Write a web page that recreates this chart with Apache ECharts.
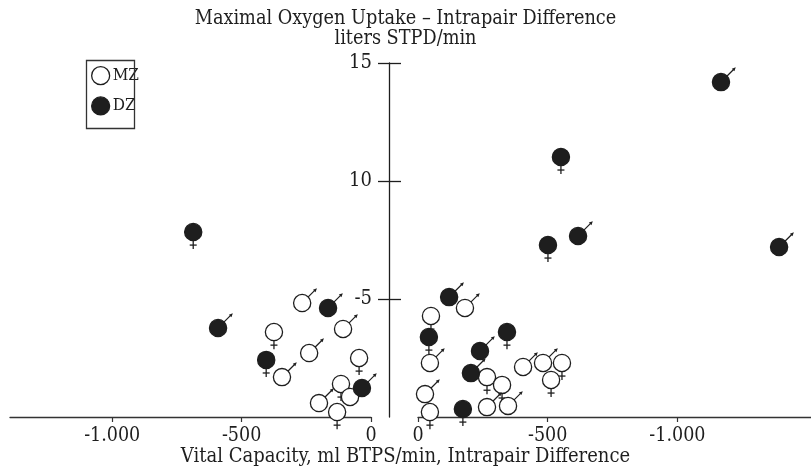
<!DOCTYPE html>
<html>
<head>
<meta charset="utf-8">
<script src="https://cdn.jsdelivr.net/npm/echarts@6.0.0/dist/echarts.min.js"></script>
<style>html,body{margin:0;padding:0;background:#fff}#chart{width:811px;height:472px}</style>
</head>
<body>
<div id="chart"></div>
<script>
// sex codes
const M = 1, F = 2;
// [vital capacity difference, VO2max difference, sex]
const mzLeft = [
  [-266, 4.83, M], [-375, 3.60, F], [-108, 3.73, M], [-239, 2.71, M], [-46, 2.50, F],
  [-344, 1.69, M], [-116, 1.40, F], [-81, 0.85, M], [-201, 0.59, M], [-131, 0.21, F]
];
const dzLeft = [
  [-687, 7.84, F], [-591, 3.77, M], [-166, 4.62, M], [-405, 2.42, F], [-35, 1.23, M]
];
const mzRight = [
  [-181, 4.62, M], [-50, 4.28, F], [-46, 2.29, M], [-266, 1.69, F], [-324, 1.36, F],
  [-405, 2.12, M], [-482, 2.29, M], [-555, 2.29, F], [-513, 1.57, F], [-27, 0.97, M],
  [-46, 0.21, F], [-266, 0.42, M], [-347, 0.47, M]
];
const dzRight = [
  [-120, 5.08, M], [-42, 3.39, F], [-343, 3.60, F], [-239, 2.80, M], [-204, 1.86, M],
  [-173, 0.34, F], [-1168, 14.19, M], [-551, 11.02, F], [-501, 7.29, F], [-617, 7.67, M],
  [-1392, 7.20, M]
];
const xTicks = [-1000, -500, 0];
const yTicks = [5, 10, 15];
const yTickLabels = {5: '-5', 10: '10', 15: '15'};
const titleText = 'Maximal Oxygen Uptake \u2013 Intrapair Difference\nliters STPD/min';
const xName = 'Vital Capacity, ml BTPS/min, Intrapair Difference';

const FONT = '"DejaVu Serif Condensed", "DejaVu Serif", serif';
const INK = '#1e1e1e';

function makeRender(filled) {
  return function (params, api) {
    const p = api.coord([api.value(0), api.value(1)]);
    const sex = api.value(2);
    const r = 8.6;
    const children = [];
    if (sex === M) {
      const d = r * 0.7071;
      const sx = p[0] + d, sy = p[1] - d;
      const ex = sx + 6.5, ey = sy - 6.5;
      const tx = ex + 2.2, ty = ey - 2.2;
      const bx = tx - 3.8 * 0.7071, by = ty + 3.8 * 0.7071;
      children.push({type: 'line', shape: {x1: sx, y1: sy, x2: ex, y2: ey}, style: {stroke: INK, lineWidth: 1.2}});
      children.push({type: 'polygon', shape: {points: [[tx, ty], [bx - 1.8 * 0.7071, by - 1.8 * 0.7071], [bx + 1.8 * 0.7071, by + 1.8 * 0.7071]]}, style: {fill: INK}});
    } else if (sex === F) {
      children.push({type: 'line', shape: {x1: p[0], y1: p[1] + r, x2: p[0], y2: p[1] + r + 8.5}, style: {stroke: INK, lineWidth: 1.3}});
      children.push({type: 'line', shape: {x1: p[0] - 3.5, y1: p[1] + r + 4.5, x2: p[0] + 3.5, y2: p[1] + r + 4.5}, style: {stroke: INK, lineWidth: 1.3}});
    }
    children.push({type: 'circle', shape: {cx: p[0], cy: p[1], r: r}, style: {fill: filled ? INK : '#fff', stroke: INK, lineWidth: 1.3}});
    return {type: 'group', children: children};
  };
}

const xLabelFmt = v => v === -1000 ? '-1.000' : String(v);

function xAxisCfg(idx, inverse, min) {
  return {
    type: 'value', gridIndex: idx, min: min, max: 0, inverse: inverse,
    splitLine: {show: false},
    axisLine: {show: true, onZero: false, lineStyle: {color: '#333', width: 1.3}},
    axisTick: {show: true, length: 5, customValues: xTicks, lineStyle: {color: '#333', width: 1.2}},
    axisLabel: {customValues: xTicks, formatter: xLabelFmt, margin: 9, fontSize: 19.5, fontFamily: FONT, color: INK}
  };
}
function hiddenY(idx) {
  return {type: 'value', gridIndex: idx, min: 0, max: 15, show: false, splitLine: {show: false}};
}

const chart = echarts.init(document.getElementById('chart'), null, {renderer: 'canvas'});
chart.setOption({
  backgroundColor: '#fff',
  animation: false,
  title: [
    {text: titleText, left: 'center', top: 4, textStyle: {fontFamily: FONT, fontSize: 19.7, fontWeight: 'normal', color: INK, lineHeight: 20}},
    {text: xName, left: 'center', bottom: 0, textStyle: {fontFamily: FONT, fontSize: 20, fontWeight: 'normal', color: INK}}
  ],
  legend: {
    orient: 'vertical', left: 91, top: 66, padding: 0, itemGap: 11,
    itemWidth: 18, itemHeight: 18,
    textStyle: {fontFamily: FONT, fontSize: 17, color: INK, padding: [0, 0, 0, -2]},
    data: [
      {name: 'MZ', icon: 'circle', itemStyle: {color: '#fff', borderColor: INK, borderWidth: 1.3}},
      {name: 'DZ', icon: 'circle', itemStyle: {color: INK, borderColor: INK, borderWidth: 1.3}}
    ],
    selectedMode: false
  },
  graphic: [
    {type: 'rect', left: 84, top: 58, shape: {width: 48, height: 68}, style: {fill: 'none', stroke: '#333', lineWidth: 1.3}, z: 10}
  ],
  grid: [
    {left: 10, width: 361, top: 63, bottom: 55},
    {left: 418, right: 0, top: 63, bottom: 55},
    {left: 389, width: 10, top: 63, bottom: 55}
  ],
  xAxis: [
    xAxisCfg(0, false, -1395),
    xAxisCfg(1, true, -1515),
    {type: 'value', gridIndex: 2, show: false, min: 0, max: 1}
  ],
  yAxis: [
    hiddenY(0), hiddenY(1),
    {
      type: 'value', gridIndex: 2, min: 0, max: 15, position: 'left',
      splitLine: {show: false},
      axisLine: {show: true, lineStyle: {color: INK, width: 1.3}},
      axisTick: {show: true, length: 11, customValues: yTicks, lineStyle: {color: INK, width: 1.3}},
      axisLabel: {customValues: yTicks, formatter: v => yTickLabels[v] || '', margin: 17, fontSize: 20, fontFamily: FONT, color: INK}
    },
    {
      type: 'value', gridIndex: 2, min: 0, max: 15, position: 'left',
      splitLine: {show: false},
      axisLine: {show: false},
      axisTick: {show: true, inside: true, length: 12, customValues: yTicks, lineStyle: {color: INK, width: 1.3}},
      axisLabel: {show: false}
    }
  ],
  series: [
    {name: 'MZ', type: 'custom', xAxisIndex: 0, yAxisIndex: 0, clip: false, renderItem: makeRender(false), data: mzLeft, itemStyle: {color: '#fff', borderColor: INK}, z: 2},
    {name: 'MZ', type: 'custom', xAxisIndex: 1, yAxisIndex: 1, clip: false, renderItem: makeRender(false), data: mzRight, itemStyle: {color: '#fff', borderColor: INK}, z: 2},
    {name: 'DZ', type: 'custom', xAxisIndex: 0, yAxisIndex: 0, clip: false, renderItem: makeRender(true), data: dzLeft, itemStyle: {color: INK}, z: 3},
    {name: 'DZ', type: 'custom', xAxisIndex: 1, yAxisIndex: 1, clip: false, renderItem: makeRender(true), data: dzRight, itemStyle: {color: INK}, z: 3}
  ]
});
</script>
</body>
</html>
